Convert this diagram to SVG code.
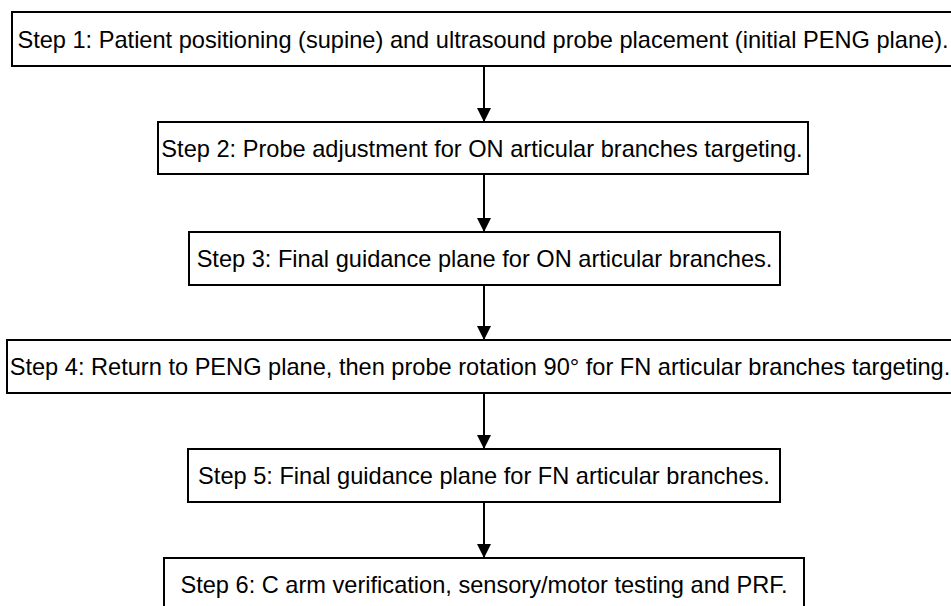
<svg xmlns="http://www.w3.org/2000/svg" width="951" height="606" viewBox="0 0 951 606">
<style>
.box{fill:#fff;stroke:#000;stroke-width:2}
.t{font-family:"Liberation Sans",Arial,sans-serif;font-size:23.6px;fill:#000;text-anchor:middle}
.c{stroke:#000;stroke-width:2;fill:none;marker-end:url(#ah)}
</style>
<defs>
<marker id="ah" markerUnits="userSpaceOnUse" markerWidth="16" markerHeight="14" refX="14" refY="7" orient="auto">
<path d="M0,0 L14,7 L0,14 Z" fill="#000"/>
</marker>
</defs>
<rect width="951" height="606" fill="#fff"/>
<g id="connectors">
<line class="c" x1="484" y1="66" x2="484" y2="122"/>
<line class="c" x1="484" y1="174" x2="484" y2="232"/>
<line class="c" x1="484" y1="285" x2="484" y2="340"/>
<line class="c" x1="484" y1="393" x2="484" y2="449"/>
<line class="c" x1="484" y1="502" x2="484" y2="558"/>
</g>
<g id="step1">
<rect class="box" x="12" y="12" width="942" height="54"/>
<text class="t" x="483" y="47.5">Step 1: Patient positioning (supine) and ultrasound probe placement (initial PENG plane).</text>
</g>
<g id="step2">
<rect class="box" x="158" y="122" width="650" height="52"/>
<text class="t" x="482" y="156.5">Step 2: Probe adjustment for ON articular branches targeting.</text>
</g>
<g id="step3">
<rect class="box" x="189" y="232" width="591" height="53"/>
<text class="t" x="484.5" y="267">Step 3: Final guidance plane for ON articular branches.</text>
</g>
<g id="step4">
<rect class="box" x="7" y="340" width="952" height="53"/>
<text class="t" x="480" y="375" font-size="23.4">Step 4: Return to PENG plane, then probe rotation 90° for FN articular branches targeting.</text>
</g>
<g id="step5">
<rect class="box" x="188" y="449" width="592" height="53"/>
<text class="t" x="484" y="484">Step 5: Final guidance plane for FN articular branches.</text>
</g>
<g id="step6">
<rect class="box" x="164" y="558" width="640" height="54"/>
<text class="t" x="484" y="593">Step 6: C arm verification, sensory/motor testing and PRF.</text>
</g>
</svg>
